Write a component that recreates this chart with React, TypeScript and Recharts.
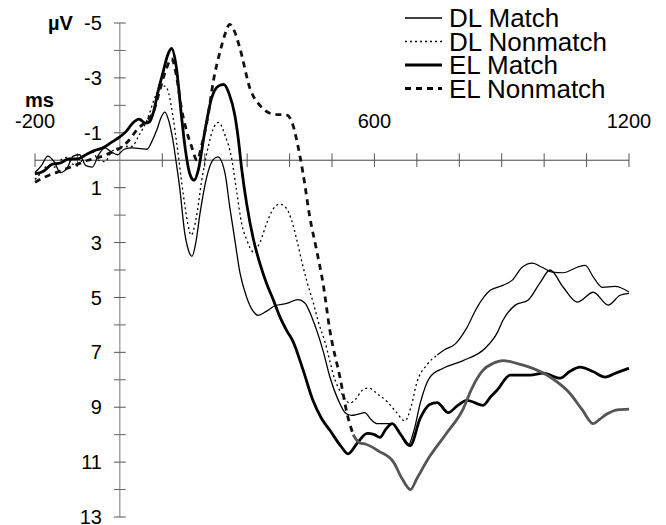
import React from 'react';
import { LineChart, Line, XAxis, YAxis, ReferenceLine, Legend } from 'recharts';

type Pt = [number, number];

// time (ms), amplitude (µV; negative plotted up)
const DL_MATCH: Pt[] = [
  [-200, 0.45], [-185, 0.2], [-170, -0.15], [-155, 0.05], [-140, 0.45], [-125, 0.3], [-110, -0.15],
  [-95, -0.2], [-80, 0.2], [-65, 0.25], [-50, -0.2], [-35, -0.45], [-20, -0.3], [-5, -0.2], [10, -0.4],
  [30, -0.45], [50, -0.42], [64, -0.4], [76, -0.7], [87, -1.1], [97, -1.55], [106, -1.75], [115, -1.45],
  [125, -0.73], [133, 0.1], [141, 1.0], [153, 2.66], [162, 3.3], [170, 3.5], [179, 3.0], [189, 1.93],
  [205, 0.6], [219, 0.0], [231, -0.12], [248, 0.49], [259, 1.7], [271, 2.9], [283, 4.1], [299, 5.0],
  [314, 5.5], [326, 5.65], [346, 5.5], [366, 5.3], [393, 5.22], [420, 5.08], [436, 5.2], [452, 5.7],
  [464, 6.2], [480, 7.0], [495, 7.9], [515, 8.75], [531, 9.2], [546, 9.3], [562, 9.25],
  [577, 9.2], [592, 9.45], [606, 9.6], [625, 9.6], [643, 9.6], [660, 9.95], [679, 10.4], [694, 9.8],
  [708, 8.85], [731, 7.9], [762, 7.58], [809, 7.3], [861, 6.85], [889, 6.3], [903, 5.83], [932, 5.28],
  [962, 5.1], [991, 4.45], [1014, 4.0], [1045, 4.63], [1078, 5.17], [1116, 4.81], [1151, 5.28],
  [1179, 4.92], [1200, 4.85],
];

const DL_NONMATCH: Pt[] = [
  [-200, 0.7], [-185, 0.45], [-170, 0.2], [-155, 0.25], [-140, 0.0], [-125, -0.1], [-110, 0.15],
  [-95, 0.1], [-80, -0.2], [-65, -0.3], [-50, 0.0], [-35, 0.05], [-20, -0.3], [-5, -0.45], [10, -0.5],
  [28, -0.5], [45, -0.9], [64, -1.46], [87, -2.44], [98, -2.65], [106, -2.7], [115, -2.45], [125, -1.6],
  [135, -0.5], [150, 1.3], [160, 2.3], [168, 2.73], [180, 2.1], [193, 0.73], [208, -0.47], [220, -1.15],
  [233, -1.38], [248, -0.9], [263, -0.1], [275, 1.1], [287, 2.3], [299, 2.9], [315, 3.34], [330, 3.0],
  [346, 2.3], [362, 1.76], [377, 1.6], [393, 1.76], [405, 2.2], [417, 2.9], [428, 3.64], [440, 4.37],
  [456, 5.2], [468, 5.9], [483, 6.6], [507, 8.0], [527, 8.6], [542, 8.85], [556, 8.7], [570, 8.4], [585, 8.3],
  [610, 8.55], [630, 8.8], [650, 9.15], [672, 9.5], [686, 9.0], [700, 8.1], [724, 7.45], [748, 7.1],
  [766, 6.9], [790, 6.7], [818, 6.1], [842, 5.36], [873, 4.74], [903, 4.56], [925, 4.37], [948, 3.9],
  [972, 3.75], [995, 3.9], [1019, 4.08], [1045, 4.1], [1078, 3.9], [1097, 3.83], [1116, 4.26],
  [1137, 4.63], [1167, 4.6], [1200, 4.8],
];

const EL_MATCH: Pt[] = [
  [-200, 0.5], [-180, 0.4], [-160, 0.15], [-140, 0.1], [-120, -0.05], [-100, -0.05], [-80, -0.2],
  [-60, -0.35], [-40, -0.45], [-20, -0.65], [0, -0.85], [15, -1.05], [30, -1.35], [45, -1.5], [60, -1.35],
  [70, -1.4], [80, -1.8], [90, -2.5], [102, -3.22], [112, -3.8], [122, -4.07], [133, -3.4], [145, -1.64],
  [153, -0.55], [165, 0.5], [175, 0.73], [185, 0.35], [200, -1.03], [216, -2.25], [232, -2.7],
  [245, -2.76], [258, -2.4], [271, -1.64], [279, -0.8], [287, 0.3], [299, 1.6], [315, 2.9], [330, 3.76],
  [346, 4.5], [362, 5.1], [377, 5.7], [393, 6.2], [408, 6.6], [432, 7.65], [455, 8.75], [475, 9.4],
  [495, 9.84], [520, 10.4], [538, 10.7],
  [560, 10.3], [583, 9.95], [600, 10.0], [613, 10.1], [627, 9.8], [642, 9.6], [662, 10.0], [684, 10.4],
  [708, 9.4], [730, 8.9], [748, 8.83], [774, 9.2], [795, 8.95], [818, 8.75], [856, 8.93], [875, 8.6],
  [889, 8.38], [920, 7.83], [967, 7.83], [998, 7.76], [1038, 7.94], [1060, 7.7], [1085, 7.54],
  [1115, 7.7], [1144, 7.9], [1170, 7.75], [1200, 7.58],
];

const EL_NONMATCH: Pt[] = [
  [-200, 0.8], [-175, 0.6], [-150, 0.45], [-125, 0.3], [-100, 0.15], [-75, 0.0], [-50, -0.1], [-25, -0.25],
  [0, -0.44], [20, -0.7], [40, -1.1], [60, -1.4], [80, -1.8], [95, -2.6], [110, -3.35], [122, -3.7],
  [133, -3.1], [145, -1.9], [155, -1.2], [169, -0.5], [182, 0.0], [193, -0.55], [208, -1.64], [220, -2.85],
  [236, -3.95], [248, -4.6], [259, -4.95], [270, -4.7], [283, -4.08], [307, -2.6], [330, -2.0],
  [361, -1.68], [394, -1.64], [408, -1.28], [420, -0.5], [432, 0.5], [448, 2.1], [464, 3.3], [479, 4.5],
  [495, 6.2], [520, 8.0], [535, 9.2], [550, 10.0], [565, 10.3], [580, 10.35], [610, 10.6], [645, 11.0],
  [665, 11.6], [685, 12.0], [700, 11.6], [730, 10.8], [770, 9.95], [808, 9.1], [830, 8.3], [856, 7.65],
  [880, 7.4], [903, 7.3], [935, 7.4], [967, 7.55], [1014, 7.9], [1061, 8.5], [1090, 9.1], [1116, 9.6],
  [1130, 9.45], [1148, 9.25], [1172, 9.1], [1200, 9.07],
];

const Y_MAJOR = [-5, -3, -1, 1, 3, 5, 7, 9, 11, 13];
const Y_MINOR = [-4, -2, 2, 4, 6, 8, 10, 12];
const X_TICKS = [-200, -100, 100, 200, 300, 400, 500, 600, 700, 800, 900, 1000, 1100, 1200];
const X_LABELS = [-200, 600, 1200];

const SERIES = [
  { name: 'DL Match', width: 1.3, dash: undefined as string | undefined },
  { name: 'DL Nonmatch', width: 1.3, dash: '2 3' },
  { name: 'EL Match', width: 2.8, dash: undefined as string | undefined },
  { name: 'EL Nonmatch', width: 2.8, dash: '6 5' },
];

const FONT = "'Liberation Sans', Arial, Helvetica, sans-serif";

const rows = (pts: Pt[]) => pts.map(([t, v]) => ({ t, v }));
const upTo = (pts: Pt[], t0: number) => rows(pts.filter((p) => p[0] <= t0));
const from = (pts: Pt[], t0: number) => rows(pts.filter((p) => p[0] >= t0));

const TitleLabel = (props: any) => {
  const { viewBox, text, dx, dy, anchor } = props;
  if (!viewBox) return null;
  return (
    <text x={viewBox.x + dx} y={viewBox.y + dy} textAnchor={anchor} fontSize={20} fontWeight="bold" fill="#000" fontFamily={FONT}>
      {text}
    </text>
  );
};

const LegendContent = (props: any) => {
  const payload = (props.payload || []).filter((e: any) => SERIES.some((s) => s.name === e.value));
  return (
    <svg width={266} height={112}>
      {payload.map((e: any, i: number) => {
        const s = SERIES.find((x) => x.name === e.value)!;
        const cy = 18 + i * 23.5;
        return (
          <g key={s.name}>
            <line x1={5} x2={42} y1={cy} y2={cy} stroke="#000" strokeWidth={s.width} strokeDasharray={s.dash} />
            <text x={49} y={cy + 9} fontSize={26} fill="#000" fontFamily={FONT}>
              {s.name}
            </text>
          </g>
        );
      })}
    </svg>
  );
};

export default function App() {
  return (
    <div style={{ position: 'absolute', left: 0, top: 0, background: '#fff' }}>
      <LineChart
        width={666}
        height={525}
        margin={{ top: 23, right: 37, bottom: 8, left: 35 }}
        style={{ fontFamily: FONT }}
      >
        <XAxis dataKey="t" type="number" domain={[-200, 1200]} hide height={0} allowDuplicatedCategory={false} />
        <YAxis type="number" domain={[-5, 13]} reversed hide width={0} />

        <ReferenceLine
          y={0}
          stroke="#444"
          strokeWidth={1}
          label={<TitleLabel text="ms" dx={-10} dy={-53} anchor="start" />}
        />
        <ReferenceLine
          x={0}
          stroke="#777"
          strokeWidth={1}
          label={<TitleLabel text="µV" dx={-47} dy={7} anchor="end" />}
        />

        {Y_MINOR.map((v) => (
          <ReferenceLine key={`ym${v}`} segment={[{ x: -14, y: v }, { x: 14, y: v }]} stroke="#666" strokeWidth={1} />
        ))}
        {Y_MAJOR.map((v) => (
          <ReferenceLine
            key={`yM${v}`}
            segment={[{ x: -14, y: v }, { x: 14, y: v }]}
            stroke="#555"
            strokeWidth={1}
            label={{ value: String(v), position: 'left', offset: 12, fontSize: 20, fill: '#000', fontFamily: FONT }}
          />
        ))}
        {X_TICKS.map((t) => (
          <ReferenceLine
            key={`x${t}`}
            segment={[{ x: t, y: -0.25 }, { x: t, y: 0.25 }]}
            stroke="#555"
            strokeWidth={1}
            label={
              X_LABELS.includes(t)
                ? { value: String(t), position: 'top', offset: 25, fontSize: 20, fill: '#000', fontFamily: FONT }
                : undefined
            }
          />
        ))}

        <Line data={rows(DL_MATCH)} dataKey="v" name="DL Match" type="monotone" stroke="#000" strokeWidth={1.3} dot={false} isAnimationActive={false} />
        <Line data={upTo(DL_NONMATCH, 748)} dataKey="v" name="DL Nonmatch" type="monotone" stroke="#000" strokeWidth={1.3} strokeDasharray="2 3" dot={false} isAnimationActive={false} />
        <Line data={from(DL_NONMATCH, 748)} dataKey="v" name="DL Nonmatch (cont.)" legendType="none" type="monotone" stroke="#000" strokeWidth={1.2} dot={false} isAnimationActive={false} />
        <Line data={rows(EL_MATCH)} dataKey="v" name="EL Match" type="monotone" stroke="#000" strokeWidth={2.8} dot={false} isAnimationActive={false} />
        <Line data={upTo(EL_NONMATCH, 550)} dataKey="v" name="EL Nonmatch" type="monotone" stroke="#111" strokeWidth={2.8} strokeDasharray="6 5" dot={false} isAnimationActive={false} />
        <Line data={from(EL_NONMATCH, 550)} dataKey="v" name="EL Nonmatch (cont.)" legendType="none" type="monotone" stroke="#555" strokeWidth={2.8} dot={false} isAnimationActive={false} />

        <Legend
          layout="vertical"
          align="center"
          verticalAlign="middle"
          content={<LegendContent />}
          wrapperStyle={{ position: 'absolute', left: 400, top: 0, width: 266, height: 112 }}
        />
      </LineChart>
    </div>
  );
}
